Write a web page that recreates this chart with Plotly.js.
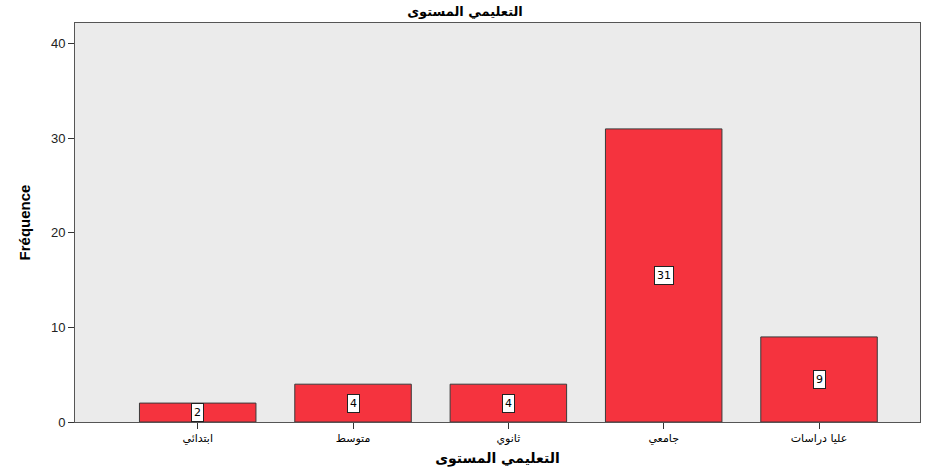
<!DOCTYPE html>
<html><head><meta charset="utf-8">
<script src="https://cdn.plot.ly/plotly-3.0.1.min.js"></script>
<style>html,body{margin:0;padding:0;background:#fff}</style>
</head><body><div id="chart" style="width:930px;height:469px"></div>
<script>
var categories = ["ابتدائي", "متوسط", "ثانوي", "جامعي", "عليا دراسات"];
var frequencies = [2, 4, 4, 31, 9];
var chartTitle = "التعليمي المستوى";
var yTitle = "Fréquence";
var yTicks = [0, 10, 20, 30, 40];

var trace = {
  type: "bar",
  x: categories,
  y: frequencies,
  width: 0.75,
  marker: {color: "#f5333e", line: {color: "#3a3a3a", width: 1}},
  hoverinfo: "x+y"
};

var annotations = categories.map(function(c, i){
  return {
    x: c, y: frequencies[i] / 2, xref: "x", yref: "y",
    text: String(frequencies[i]), showarrow: false,
    font: {family: "DejaVu Sans, Arial, sans-serif", size: 11, color: "#000"},
    bgcolor: "#ffffff", bordercolor: "#222222", borderwidth: 1, borderpad: 2
  };
});

var layout = {
  width: 930, height: 469,
  margin: {l: 75, r: 10, t: 23, b: 47},
  paper_bgcolor: "#ffffff",
  plot_bgcolor: "#ebebeb",
  showlegend: false,
  title: {text: chartTitle, x: 0.5, xanchor: "center", y: 0.985, yanchor: "top",
          font: {family: "DejaVu Sans, Arial, sans-serif", size: 13, color: "#000", weight: "bold"}},
  xaxis: {
    type: "category",
    range: [-0.79, 4.65],
    showline: true, linecolor: "#555", linewidth: 1, mirror: true,
    ticks: "outside", ticklen: 6, tickcolor: "#333", tickwidth: 1,
    tickfont: {family: "DejaVu Sans, Arial, sans-serif", size: 11, color: "#000"},
    showgrid: false, zeroline: false,
    title: {text: chartTitle, standoff: 8,
            font: {family: "DejaVu Sans, Arial, sans-serif", size: 14, color: "#000", weight: "bold"}}
  },
  yaxis: {
    range: [0, 42.2],
    tickvals: yTicks,
    showline: true, linecolor: "#555", linewidth: 1, mirror: true,
    ticks: "outside", ticklen: 6, tickcolor: "#333", tickwidth: 1,
    tickfont: {family: "Liberation Sans, Arial, sans-serif", size: 13, color: "#222"},
    showgrid: false, zeroline: false,
    title: {text: yTitle, standoff: 16,
            font: {family: "Liberation Sans Narrow, Arial Narrow, Liberation Sans, sans-serif", size: 15, color: "#000", weight: "bold"}}
  },
  annotations: annotations
};

Plotly.newPlot("chart", [trace], layout, {displayModeBar: false, staticPlot: true});
</script>
</body></html>
